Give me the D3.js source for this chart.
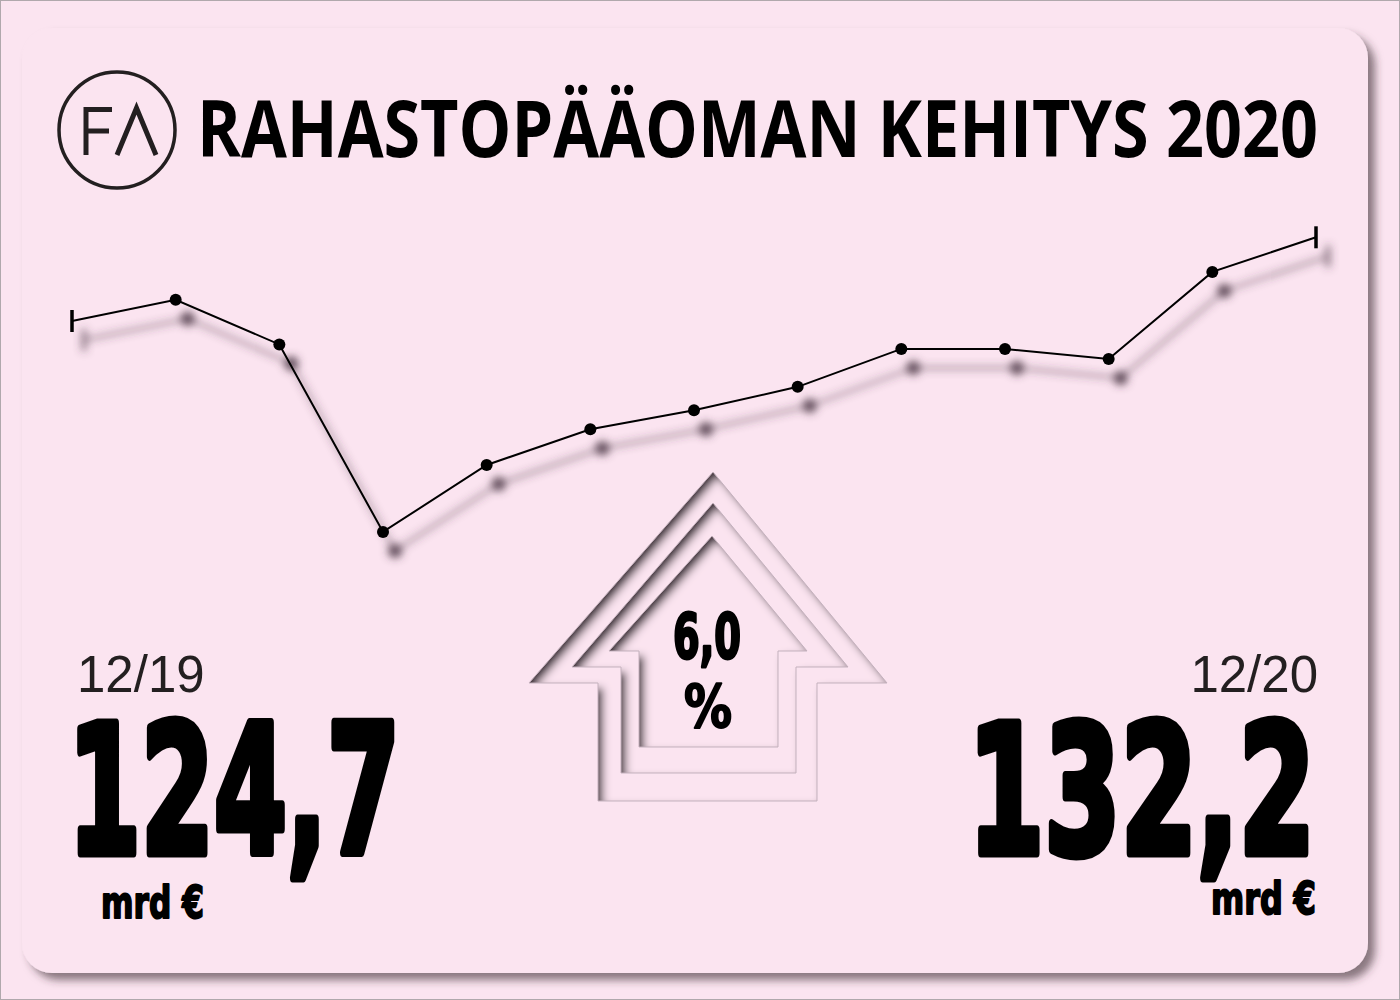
<!DOCTYPE html>
<html>
<head>
<meta charset="utf-8">
<script src="https://cdn.jsdelivr.net/npm/d3@7"></script>
<style>
  html, body { margin: 0; padding: 0; background: #fbe4f0; }
  svg { display: block; }
</style>
</head>
<body>
<svg id="chart" width="1400" height="1000"></svg>
<script>
// ---- data ----
const months = ["12/19","1/20","2/20","3/20","4/20","5/20","6/20","7/20","8/20","9/20","10/20","11/20","12/20"];
const capital = [124.7, 126.6, 122.6, 105.8, 111.8, 115.0, 116.7, 118.8, 122.2, 122.2, 121.3, 129.1, 132.2];
const title = "RAHASTOPÄÄOMAN KEHITYS 2020";
const startLabel = "12/19", endLabel = "12/20";
const startValue = "124,7", endValue = "132,2";
const unitLabel = "mrd €";
const changeValue = "6,0", changeUnit = "%";

const BG = "#fbe4f0";
const INK = "#000";
const svg = d3.select("#chart");
const defs = svg.append("defs");

// filters
const cardSh = defs.append("filter").attr("id","cardShadow").attr("x","-5%").attr("y","-5%").attr("width","110%").attr("height","110%");
cardSh.append("feDropShadow").attr("dx",7).attr("dy",7).attr("stdDeviation",4)
  .attr("flood-color","#3a2a35").attr("flood-opacity",0.6);

const lineSh = defs.append("filter").attr("id","lineShadow").attr("x","-10%").attr("y","-20%").attr("width","120%").attr("height","140%");
lineSh.append("feGaussianBlur").attr("in","SourceAlpha").attr("stdDeviation",4.5).attr("result","b");
lineSh.append("feFlood").attr("flood-color","#4a3644").attr("flood-opacity",0.9);
lineSh.append("feComposite").attr("in2","b").attr("operator","in");

const inset = defs.append("filter").attr("id","inset").attr("x","-10%").attr("y","-10%").attr("width","120%").attr("height","120%");
inset.append("feOffset").attr("in","SourceAlpha").attr("dx",5).attr("dy",5).attr("result","off");
inset.append("feGaussianBlur").attr("in","off").attr("stdDeviation",4.5).attr("result","blur");
inset.append("feComposite").attr("in","SourceAlpha").attr("in2","blur").attr("operator","out").attr("result","inv");
inset.append("feFlood").attr("flood-color","#2e1f29").attr("flood-opacity",1).attr("result","fl");
inset.append("feComposite").attr("in","fl").attr("in2","inv").attr("operator","in").attr("result","sh");
const mg = inset.append("feMerge");
mg.append("feMergeNode").attr("in","SourceGraphic");
mg.append("feMergeNode").attr("in","sh");

// page frame + card
svg.append("rect").attr("x",0.5).attr("y",0.5).attr("width",1399).attr("height",999)
  .attr("fill",BG).attr("stroke","#b0a8ac").attr("stroke-width",1);
svg.append("rect").attr("x",22).attr("y",28).attr("width",1346).attr("height",945).attr("rx",30)
  .attr("fill",BG).attr("filter","url(#cardShadow)");

// logo
const logo = svg.append("g").attr("fill","none").attr("stroke","#231f20");
logo.append("circle").attr("cx",117).attr("cy",130).attr("r",58).attr("stroke-width",3.5);
logo.append("path").attr("d","M86,155 V109.5 H112 M86,131 H109").attr("stroke-width",5);
logo.append("path").attr("d","M117,155 L136.5,108 L156,155").attr("stroke-width",5).attr("stroke-linejoin","miter");

// title
svg.append("text").attr("x",197).attr("y",157).attr("textLength",1121).attr("lengthAdjust","spacingAndGlyphs")
  .attr("font-family","'Open Sans', 'Noto Sans', sans-serif").attr("font-weight",700).attr("font-size",78)
  .attr("fill",INK).text(title);

// scales
const x = d3.scalePoint().domain(months).range([72, 1316]);
const y = d3.scaleLinear().domain([105, 133]).range([540.85, 228.37]);
const line = d3.line().x((d,i)=>x(months[i])).y(d=>y(d));
const data = capital.map((v,i)=>({m:months[i], v, i}));
const inner = data.filter(d => d.i > 0 && d.i < data.length-1);
const ends = data.filter(d => d.i === 0 || d.i === data.length-1);

function drawSeries(g, r){
  g.append("path").datum(capital).attr("d",line).attr("fill","none").attr("stroke",INK).attr("stroke-width",2);
  g.selectAll("circle").data(inner).join("circle")
    .attr("cx",d=>x(d.m)).attr("cy",d=>y(d.v)).attr("r",r).attr("fill",INK);
  g.selectAll("line.end").data(ends).join("line").attr("class","end")
    .attr("x1",d=>x(d.m)).attr("x2",d=>x(d.m))
    .attr("y1",d=>y(d.v)-11).attr("y2",d=>y(d.v)+11)
    .attr("stroke",INK).attr("stroke-width",3.5);
}
const shadowG = svg.append("g").attr("transform","translate(12,19)").attr("filter","url(#lineShadow)");
drawSeries(shadowG, 7);
const seriesG = svg.append("g");
drawSeries(seriesG, 6);

// arrow (decoration)
const arrows = [
  [[713,472],[887,683],[817,683],[817,801],[598,801],[598,683],[529,683]],
  [[713,503],[848,667],[796,667],[796,773],[621,773],[621,667],[572,667]],
  [[712,536],[807,651],[778,651],[778,747],[639,747],[639,651],[609,651]]
];
const ag = svg.append("g");
arrows.forEach(pts => {
  ag.append("path").attr("d", d3.line()(pts) + "Z").attr("fill",BG).attr("filter","url(#inset)");
  ag.append("path").attr("d", d3.line()(pts) + "Z").attr("fill","none")
    .attr("stroke","#c4b1bd").attr("stroke-width",1);
});

// heavy condensed text helper
function heavy(txt, x0, baseline, size, len, sw){
  svg.append("text").attr("x",x0).attr("y",baseline)
    .attr("font-family","'DejaVu Sans', sans-serif").attr("font-weight",700).attr("font-size",size)
    .attr("textLength",len).attr("lengthAdjust","spacingAndGlyphs")
    .attr("fill",INK).attr("stroke",INK).attr("stroke-width",sw).attr("stroke-linejoin","round")
    .text(txt);
}

// change in arrow
heavy(changeValue, 673, 658, 62, 68, 3);
heavy(changeUnit, 684, 727, 58, 48, 2);

// left / right date labels
svg.append("text").attr("x",77).attr("y",692).attr("font-family","'Liberation Sans', Arial, sans-serif")
  .attr("font-size",51).attr("fill","#231f20").text(startLabel);
svg.append("text").attr("x",1318).attr("y",692).attr("text-anchor","end").attr("font-family","'Liberation Sans', Arial, sans-serif")
  .attr("font-size",51).attr("fill","#231f20").text(endLabel);

// big values
heavy(startValue, 68, 853, 179, 332, 9);
heavy(endValue, 968, 853, 179, 347, 9);

// units
heavy(unitLabel, 101, 918, 44, 103, 2);
heavy(unitLabel, 1211, 914, 44, 105, 2);
</script>
</body>
</html>
